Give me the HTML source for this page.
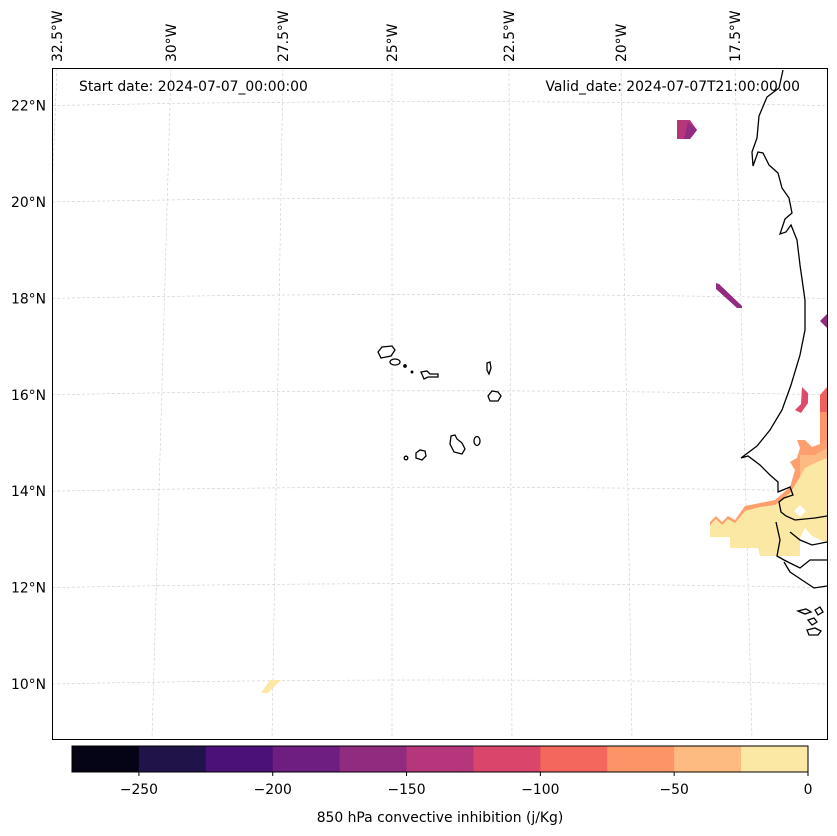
<!DOCTYPE html>
<html><head><meta charset="utf-8"><style>
html,body{margin:0;padding:0;background:#fff;}
svg{display:block;font-family:"DejaVu Sans","Liberation Sans",sans-serif;}
</style></head><body>
<svg id="fig" width="837" height="836" viewBox="0 0 837 836">
<defs><clipPath id="mapclip"><rect x="52.5" y="68.5" width="775" height="671"/></clipPath></defs>
<rect width="837" height="836" fill="#fff"/>
<g id="grid" clip-path="url(#mapclip)"></g>
<g id="fields">
 <polygon points="677,120 690,120 697,130 690,139 677,139" fill="#b5367a"/>
 <polygon points="688,122 697,130 690,139 684,139" fill="#932b80"/>
 <polygon points="716,283 719,284 742,306 742,308 737,308 716,289" fill="#932b80"/>
 <polygon points="827,314 820,321 827,328" fill="#932b80"/>
 <polygon points="802,387 808,393 808,403 801,413 795,410 801,404" fill="#dd4a6b"/>
 <polygon points="827,387 820,395 820,412 827,412" fill="#f1605d"/>
 <polygon points="820,412 827,412 827,450 820,450" fill="#fd9567"/>
 <polygon points="710,522 716,516 722,522 728,516 735,520 745,506 760,503 775,500 790,487 795,470 790,462 797,458 800,448 797,440 805,440 812,447 820,444 827,438 827,470 800,500 760,515 730,527 710,528" fill="#fe9f6d"/>
 <polygon points="800,455 815,455 827,448 827,470 800,490" fill="#feba80"/>
 <polygon points="710,525 716,519 722,525 728,519 735,523 745,511 760,507 775,505 790,493 797,482 805,468 815,463 827,458 827,543 812,536 805,528 800,538 800,556 760,556 758,548 730,548 730,537 710,537" fill="#fce8a5"/>
 <polygon points="800,505 806,511 800,517 794,511" fill="#fff"/>
 <polygon points="270,680 281,680 268,693 261,693" fill="#fce8a5"/>
</g>
<g fill="none" stroke="#000" stroke-width="1.3">
 <polyline points="783,70 779,88 767,97 759,116 757,138 752,152 753,166 758,152 763,153 769,165 778,173 782,188 789,198 792,213 785,219 780,234 786,232 791,225 797,240 800,265 805,300 805,330 800,355 791,385 782,410 770,430 757,446 741,458 748,456 760,465 770,475 778,482 778,492 790,487 793,495 784,498 779,502 781,512 786,516 795,520 815,518 827,516"/>
 <polyline points="776,522 780,540 777,556 784,560 800,568 810,560 827,560"/>
 <polyline points="790,532 800,540 812,545 827,542"/>
 <polyline points="784,562 790,572 805,582 814,588 827,586"/>
 <path d="M798,611 l8,-2 l5,3 l-6,2 z M815,610 l5,-3 l3,5 l-5,3 z M808,620 l6,-2 l3,4 l-5,3 z M807,630 l8,-2 l6,3 l-3,4 l-9,0 z"/>
 <path d="M378,352 l4,-5 l10,-1 l3,4 l-4,6 l-10,2 z"/>
 <ellipse cx="395" cy="362" rx="5" ry="3"/>
 <circle cx="405" cy="366" r="1.2" fill="#000"/>
 <circle cx="412" cy="372" r="0.8" fill="#000"/>
 <path d="M421,372 l6,-1 l3,3 l8,0 l0,3 l-10,0 l-4,2 z"/>
 <path d="M487,363 l3,-1 l1,6 l-2,6 l-2,-4 z"/>
 <path d="M488,396 l4,-5 l6,1 l3,4 l-3,5 l-8,0 z"/>
 <path d="M451,436 l4,-1 l2,4 l5,4 l3,6 l-3,5 l-8,-2 l-4,-8 z"/>
 <ellipse cx="477" cy="441" rx="3" ry="4.5"/>
 <path d="M416,453 l4,-3 l5,1 l1,5 l-4,4 l-6,-2 z"/>
 <circle cx="406" cy="458" r="1.8"/>
</g>
<rect x="52.5" y="68.5" width="775" height="671" fill="none" stroke="#000" stroke-width="1"/>
<g id="latlabels" font-size="13.9" fill="#000" text-anchor="end"></g>
<g id="lonlabels" font-size="13.9" fill="#000"></g>
<text x="79" y="91" font-size="13.9">Start date: 2024-07-07_00:00:00</text>
<text x="800" y="91" font-size="13.9" text-anchor="end">Valid_date: 2024-07-07T21:00:00.00</text>
<g id="cbar"></g>
<text x="440" y="822" font-size="13.9" text-anchor="middle">850 hPa convective inhibition (j/Kg)</text>
</svg>
<script>
const NS="http://www.w3.org/2000/svg";
const cbLevels=[-275,-250,-225,-200,-175,-150,-125,-100,-75,-50,-25,0];
const cbColors=["#050416","#20134a","#4b1178","#6e1e81","#912b80","#b5367a","#da466b","#f3675c","#fd9466","#febb81","#fce8a5"];
const cbTicks=[-250,-200,-150,-100,-50,0];
const latValues=[22,20,18,16,14,12,10];
const lonValues=[32.5,30,27.5,25,22.5,20,17.5];
function latY(lat){return 684-(lat-10)*48.2;}
const lonTop={32.5:57,30:171,27.5:283,25:392,22.5:509,20:621,17.5:735};
const lonBot={32.5:30,30:152,27.5:272,25:392,22.5:512,20:632,17.5:752};
const grid=document.getElementById('grid');
latValues.forEach(lat=>{
 const y=latY(lat);
 const p=document.createElementNS(NS,'path');
 p.setAttribute('d',`M52,${y} Q440,${y-8} 827,${y}`);
 p.setAttribute('stroke','#ccc');p.setAttribute('stroke-width','0.6');p.setAttribute('stroke-dasharray','3,2');p.setAttribute('fill','none');
 
 
 grid.appendChild(p);
 const t=document.createElementNS(NS,'text');
 t.setAttribute('x',46);t.setAttribute('y',y+5);t.textContent=lat+'°N';
 
 
 document.getElementById('latlabels').appendChild(t);
});
lonValues.forEach(lon=>{
 const l=document.createElementNS(NS,'line');
 l.setAttribute('x1',lonTop[lon]);l.setAttribute('y1',68);l.setAttribute('x2',lonBot[lon]);l.setAttribute('y2',739);
 l.setAttribute('stroke','#ccc');l.setAttribute('stroke-width','0.6');l.setAttribute('stroke-dasharray','3,2');
 
 
 grid.appendChild(l);
 const t=document.createElementNS(NS,'text');
 const lx=lonTop[lon]+5;
 t.setAttribute('transform',`translate(${lx},62) rotate(-90)`);
 t.textContent=lon+'°W';
 
 
 document.getElementById('lonlabels').appendChild(t);
});
const cb=document.getElementById('cbar');
const cx0=72,cx1=808,cy=746,ch=26;
function cbX(v){return cx0+(v-cbLevels[0])/(cbLevels[cbLevels.length-1]-cbLevels[0])*(cx1-cx0);}
cbColors.forEach((c,i)=>{
 const r=document.createElementNS(NS,'rect');
 const a=cbX(cbLevels[i]),b=cbX(cbLevels[i+1]);
 r.setAttribute('x',a);r.setAttribute('y',cy);r.setAttribute('width',b-a+0.5);r.setAttribute('height',ch);r.setAttribute('fill',c);
 
 
 cb.appendChild(r);
});
const fr=document.createElementNS(NS,'rect');
fr.setAttribute('x',cx0);fr.setAttribute('y',cy);fr.setAttribute('width',cx1-cx0);fr.setAttribute('height',ch);fr.setAttribute('fill','none');fr.setAttribute('stroke','#000');


cb.appendChild(fr);
cbTicks.forEach(v=>{
 const x=cbX(v);
 const l=document.createElementNS(NS,'line');
 l.setAttribute('x1',x);l.setAttribute('x2',x);l.setAttribute('y1',cy+ch);l.setAttribute('y2',cy+ch+4);l.setAttribute('stroke','#000');
 
 
 cb.appendChild(l);
 const t=document.createElementNS(NS,'text');
 t.setAttribute('x',x);t.setAttribute('y',794);t.setAttribute('text-anchor','middle');t.setAttribute('font-size','13.9');
 t.textContent=v<0?'\u2212'+Math.abs(v):String(v);
 
 
 cb.appendChild(t);
});
</script>
</body></html>
